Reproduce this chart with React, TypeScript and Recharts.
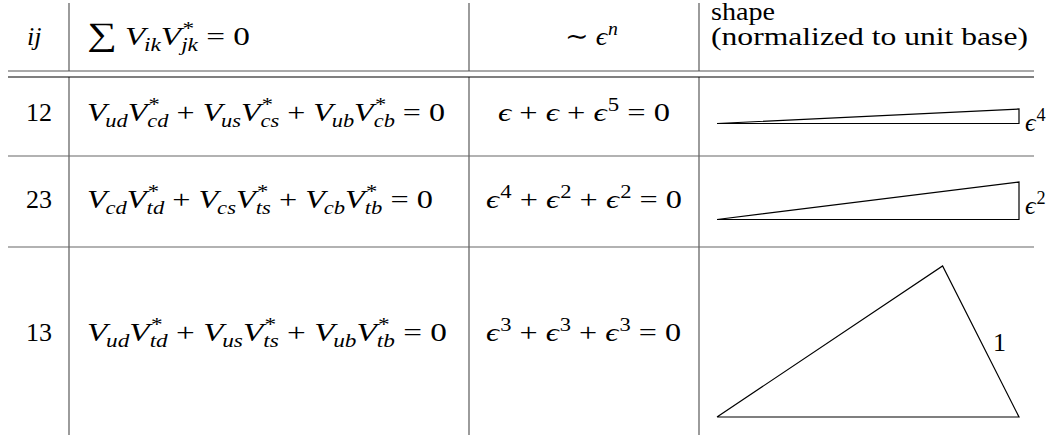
import React from 'react';
import { ComposedChart, XAxis, YAxis, Line, ReferenceLine, Customized } from 'recharts';

// ---------- data ----------
const ijLabels = ['12', '23', '13'];
// pairs of subscripts: V_{a} V*_{b}
const unitarityTerms: string[][][] = [
  [['ud', 'cd'], ['us', 'cs'], ['ub', 'cb']],
  [['cd', 'td'], ['cs', 'ts'], ['cb', 'tb']],
  [['ud', 'td'], ['us', 'ts'], ['ub', 'tb']],
];
// powers of epsilon for each term
const epsilonPowers: number[][] = [
  [1, 1, 5],
  [4, 2, 2],
  [3, 3, 3],
];
// triangle shapes normalised to unit base: base (0,0)-(1,0), apex
const apexX = [1, 1, 0.747];
const apexY = [0.048, 0.124, 0.5];
const sideLabelBase = ['ϵ', 'ϵ', '1'];
const sideLabelPow = ['4', '2', ''];
const headerShape = ['shape', '(normalized to unit base)'];

// ---------- layout ----------
const W = 1060;
const H = 435;
const FS = 26;
const SERIF = '"Liberation Serif", "DejaVu Serif", serif';
const X_L = 8;
const X_R = 1034;
const COLS = [69, 469, 699];
const RULES = [71, 77];
const ROW_SEPS = [156, 247];
const ROW_BASE = [121, 208, 341];
const HEADER_BASE = 45;
const TRI_X0 = 717;
const TRI_SCALE = 302;
const TRI_BASE_Y = [123.5, 219.5, 417];
const COL2_W = [358, 346, 360];
const COL3_X = [498, 486, 486];
const COL3_W = [172, 196, 195];
const SIDE_POS = [
  { x: 1025, y: 131 },
  { x: 1025, y: 214 },
  { x: 993, y: 351 },
];

type Tok = { t: string; it?: boolean; sup?: string; sub?: string; scale?: number };

function mathSpans(toks: Tok[], size: number) {
  const out: React.ReactNode[] = [];
  let cur = 0;
  let key = 0;
  toks.forEach((tk) => {
    out.push(
      <tspan
        key={key++}
        dy={cur !== 0 ? -cur : undefined}
        fontStyle={tk.it ? 'italic' : 'normal'}
        fontSize={size * (tk.scale || 1)}
      >
        {tk.t}
      </tspan>
    );
    cur = 0;
    if (tk.sup) {
      const d = -0.4 * size;
      const italicSup = /[a-z]/.test(tk.sup);
      out.push(
        <tspan key={key++} dx={1} dy={d - cur} fontSize={size * 0.7} fontStyle={italicSup ? 'italic' : 'normal'}>
          {tk.sup}
        </tspan>
      );
      cur = d;
    }
    if (tk.sub) {
      const d = 0.24 * size;
      const back = tk.sup ? -(tk.sup.length * 0.5 * 0.7 * size) - 1 : -1;
      out.push(
        <tspan key={key++} dx={back} dy={d - cur} fontSize={size * 0.7} fontStyle="italic">
          {tk.sub}
        </tspan>
      );
      cur = d;
    }
  });
  return out;
}

function MathText({ x, y, toks, width, size = FS }: { x: number; y: number; toks: Tok[]; width?: number; size?: number }) {
  return (
    <text
      x={x}
      y={y}
      fontFamily={SERIF}
      fontSize={size}
      fill="#000"
      textLength={width}
      lengthAdjust={width ? 'spacingAndGlyphs' : undefined}
    >
      {mathSpans(toks, size)}
    </text>
  );
}

function unitarityToks(row: string[][]): Tok[] {
  const toks: Tok[] = [];
  row.forEach((pair, k) => {
    toks.push({ t: 'V', it: true, sub: pair[0] });
    toks.push({ t: 'V', it: true, sup: '*', sub: pair[1] });
    toks.push({ t: k < row.length - 1 ? ' + ' : ' = 0' });
  });
  return toks;
}

function epsToks(row: number[]): Tok[] {
  const toks: Tok[] = [];
  row.forEach((p, k) => {
    toks.push({ t: 'ϵ', it: true, sup: p > 1 ? String(p) : undefined });
    toks.push({ t: k < row.length - 1 ? ' + ' : ' = 0' });
  });
  return toks;
}

const triangleData = apexX.map((ax, i) => {
  const pts = [
    { x: 0, y: 0 },
    { x: 1, y: 0 },
    { x: ax, y: apexY[i] },
    { x: 0, y: 0 },
  ];
  return pts.map((p) => ({ x: TRI_X0 + p.x * TRI_SCALE, y: TRI_BASE_Y[i] - p.y * TRI_SCALE }));
});

function TableText() {
  return (
    <g>
      {/* header */}
      <MathText x={27} y={HEADER_BASE} toks={[{ t: 'ij', it: true }]} />
      <MathText
        x={87}
        y={HEADER_BASE}
        width={163}
        toks={[
          { t: '∑', scale: 1.25 },
          { t: ' ' },
          { t: 'V', it: true, sub: 'ik' },
          { t: 'V', it: true, sup: '*', sub: 'jk' },
          { t: ' = 0' },
        ]}
      />
      <MathText x={565} y={HEADER_BASE} width={53} toks={[{ t: '∼ ' }, { t: 'ϵ', it: true, sup: 'n' }]} />
      <text x={711} y={20} fontFamily={SERIF} fontSize={FS} textLength={64} lengthAdjust="spacingAndGlyphs">
        {headerShape[0]}
      </text>
      <text x={711} y={HEADER_BASE} fontFamily={SERIF} fontSize={FS} textLength={317} lengthAdjust="spacingAndGlyphs">
        {headerShape[1]}
      </text>
      {/* rows */}
      {ijLabels.map((lab, i) => (
        <text key={'ij' + i} x={26} y={ROW_BASE[i]} fontFamily={SERIF} fontSize={FS}>
          {lab}
        </text>
      ))}
      {unitarityTerms.map((row, i) => (
        <MathText key={'u' + i} x={87} y={ROW_BASE[i]} width={COL2_W[i]} toks={unitarityToks(row)} />
      ))}
      {epsilonPowers.map((row, i) => (
        <MathText key={'e' + i} x={COL3_X[i]} y={ROW_BASE[i]} width={COL3_W[i]} toks={epsToks(row)} />
      ))}
      {sideLabelBase.map((b, i) => (
        <MathText
          key={'s' + i}
          x={SIDE_POS[i].x}
          y={SIDE_POS[i].y}
          toks={[{ t: b, it: b !== '1', sup: sideLabelPow[i] || undefined }]}
        />
      ))}
    </g>
  );
}

const seg = (x1: number, y1: number, x2: number, y2: number) => [
  { x: x1, y: y1 },
  { x: x2, y: y2 },
];

export default function App() {
  return (
    <div style={{ position: 'absolute', left: 0, top: 0, background: '#fff' }}>
      <ComposedChart width={W} height={H} margin={{ top: 0, right: 0, bottom: 0, left: 0 }}>
        <XAxis type="number" dataKey="x" domain={[0, W]} hide allowDataOverflow />
        <YAxis type="number" dataKey="y" domain={[0, H]} reversed hide allowDataOverflow />
        {/* vertical rules */}
        {COLS.map((cx, i) => (
          <ReferenceLine key={'vt' + i} segment={seg(cx, 3, cx, RULES[0])} stroke="#666" strokeWidth={1.3} ifOverflow="visible" />
        ))}
        {COLS.map((cx, i) => (
          <ReferenceLine key={'vb' + i} segment={seg(cx, RULES[1], cx, H)} stroke="#666" strokeWidth={1.3} ifOverflow="visible" />
        ))}
        {/* double rule under header */}
        <ReferenceLine segment={seg(X_L, RULES[0], X_R, RULES[0])} stroke="#555" strokeWidth={1.2} ifOverflow="visible" />
        <ReferenceLine segment={seg(X_L, RULES[1], X_R, RULES[1])} stroke="#000" strokeWidth={1.2} ifOverflow="visible" />
        {/* row separators */}
        {ROW_SEPS.map((ry, i) => (
          <ReferenceLine key={'r' + i} segment={seg(X_L, ry, X_R, ry)} stroke="#666" strokeWidth={1.2} ifOverflow="visible" />
        ))}
        {/* triangles */}
        {triangleData.map((d, i) => (
          <Line
            key={'t' + i}
            data={d}
            dataKey="y"
            type="linear"
            stroke="#000"
            strokeWidth={1.2}
            dot={false}
            activeDot={false}
            isAnimationActive={false}
            strokeLinejoin="miter"
          />
        ))}
        <Customized component={TableText} />
      </ComposedChart>
    </div>
  );
}
